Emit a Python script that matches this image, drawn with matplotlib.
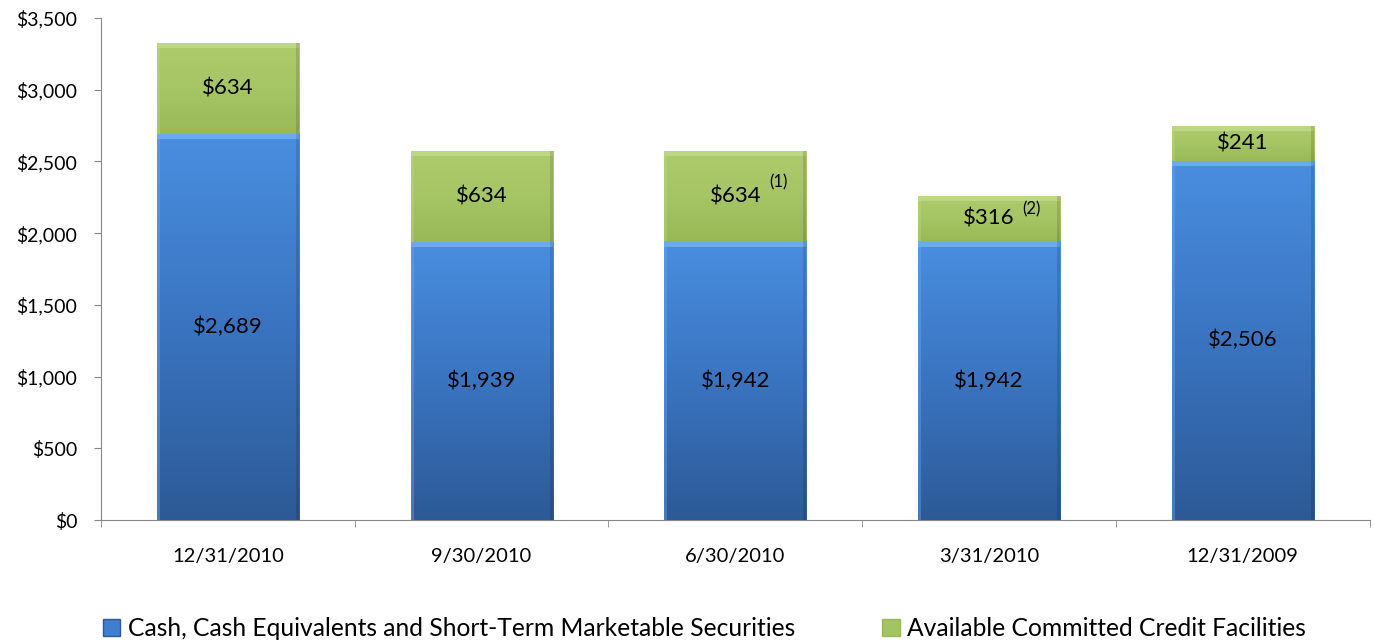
import matplotlib
matplotlib.use("Agg")
import matplotlib.pyplot as plt
import numpy as np
from matplotlib.patches import Patch
from matplotlib.colors import LinearSegmentedColormap

categories = ["12/31/2010", "9/30/2010", "6/30/2010", "3/31/2010", "12/31/2009"]
cash = [2689, 1939, 1942, 1942, 2506]
credit = [634, 634, 634, 316, 241]
notes = ["", "", "(1)", "(2)", ""]
yticks = [0, 500, 1000, 1500, 2000, 2500, 3000, 3500]

plt.rcParams['font.family'] = ['Lato', 'DejaVu Sans']

fig = plt.figure(figsize=(13.75, 6.44), dpi=100)
ax = fig.add_axes([0.0735, 0.1925, 0.9225, 0.7795])

x = np.arange(len(categories))
w = 0.56
blue_bars = ax.bar(x, cash, w, color="#3f7fcf", edgecolor="none", zorder=2)
green_bars = ax.bar(x, credit, w, bottom=cash, color="#a4c462", edgecolor="none", zorder=2)

blue_cmap = LinearSegmentedColormap.from_list("b", ["#2d5a96", "#3a74c0", "#4a8ee0"])
green_cmap = LinearSegmentedColormap.from_list("g", ["#98b956", "#a6c565", "#aecb6c"])
grad = np.linspace(0, 1, 256).reshape(-1, 1)

def shade(bars, cmap, light):
    for b in bars:
        x0, y0 = b.get_x(), b.get_y()
        bw, bh = b.get_width(), b.get_height()
        im = ax.imshow(grad, cmap=cmap, aspect="auto", origin="lower",
                       extent=(x0, x0 + bw, y0, y0 + bh), zorder=3)
        im.set_clip_path(b)
        ax.fill_between([x0, x0 + bw], y0 + bh - 35, y0 + bh, color=light, zorder=4, lw=0)
        ax.fill_between([x0, x0 + 0.012], y0, y0 + bh, color=light, alpha=0.4, zorder=4, lw=0)
        ax.fill_between([x0 + bw - 0.012, x0 + bw], y0, y0 + bh, color="black", alpha=0.12, zorder=4, lw=0)

shade(blue_bars, blue_cmap, "#6aaaf0")
shade(green_bars, green_cmap, "#bcd884")

for i in range(len(categories)):
    ax.text(x[i], cash[i] / 2, f"${cash[i]:,}", ha="center", va="center", fontsize=16, zorder=6)
    ax.text(x[i], cash[i] + credit[i] / 2, f"${credit[i]:,}", ha="center", va="center", fontsize=16, zorder=6)
    if notes[i]:
        off = 0.135 if credit[i] > 400 else 0.13
        ax.text(x[i] + off, cash[i] + credit[i] / 2 + (95 if credit[i] > 400 else 65), notes[i],
                ha="left", va="center", fontsize=12, zorder=6)

ax.set_xlim(-0.5, len(categories) - 0.5)
ax.set_ylim(0, 3500)
ax.set_yticks(yticks)
ax.set_yticklabels([f"${v:,}" for v in yticks], fontsize=14)
ax.set_xticks(x)
ax.set_xticklabels(categories, fontsize=14.5)
ax.tick_params(axis="x", length=0, pad=20)
ax.set_xticks(np.arange(-0.5, len(categories), 1), minor=True)
ax.tick_params(axis="x", which="minor", length=5, color="#888888")
ax.tick_params(axis="y", length=5, color="#888888", pad=12)
for s in ["top", "right"]:
    ax.spines[s].set_visible(False)
for s in ["left", "bottom"]:
    ax.spines[s].set_color("#888888")

handles = [Patch(facecolor="#3f7fcf", edgecolor="#2d5a96"), Patch(facecolor="#a4c462", edgecolor="#98b956")]
fig.legend(handles, ["Cash, Cash Equivalents and Short-Term Marketable Securities",
                     "Available Committed Credit Facilities"],
           loc="lower left", bbox_to_anchor=(0.059, -0.028), ncol=2, frameon=False,
           fontsize=17.7, handlelength=0.7, handleheight=0.7, handletextpad=0.3, columnspacing=3.55)

fig.savefig("out.png", dpi=100)
